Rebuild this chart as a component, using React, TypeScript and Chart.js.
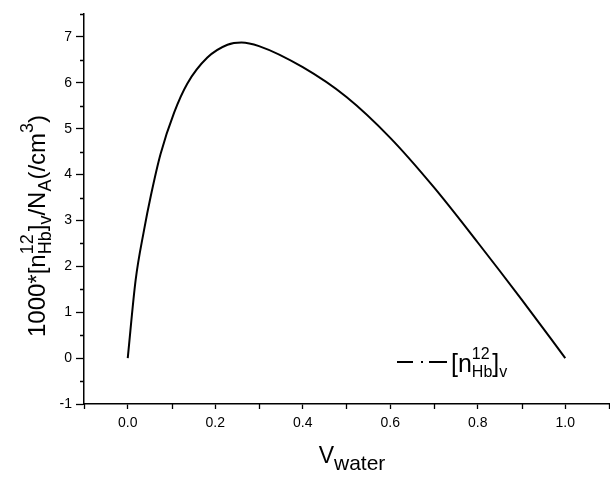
import React, { useEffect, useRef } from 'react';
import { Chart, registerables } from 'chart.js';

Chart.register(...registerables);

// Curve: V_water vs 1000*[n12_Hb]_v/N_A (/cm^3)
const vWater = [0, 0.018, 0.037, 0.053, 0.075, 0.106, 0.136, 0.182, 0.228, 0.26, 0.3, 0.4, 0.5, 0.6, 0.7, 0.8, 0.9, 1.0];
const nHb = [0, 1.70, 2.78, 3.55, 4.45, 5.35, 5.98, 6.55, 6.83, 6.88, 6.80, 6.34, 5.69, 4.80, 3.72, 2.52, 1.28, 0];

const xMajorTicks = [0, 0.2, 0.4, 0.6, 0.8, 1.0];
const xMinorTicks = [-0.1, 0.1, 0.3, 0.5, 0.7, 0.9, 1.1];
const yMajorTicks = [-1, 0, 1, 2, 3, 4, 5, 6, 7];
const yMinorTicks = [-0.5, 0.5, 1.5, 2.5, 3.5, 4.5, 5.5, 6.5, 7.5];
const xRange = [-0.1, 1.1];
const yRange = [-1, 7.5];

const FONT = "'Liberation Sans', Arial, Helvetica, sans-serif";

type Seg = { t: string; size: number; dy: number; group?: number };

function measureRich(ctx: CanvasRenderingContext2D, segs: Seg[]) {
  let w = 0;
  let i = 0;
  while (i < segs.length) {
    const g = segs[i].group;
    let maxW = 0;
    let j = i;
    do {
      ctx.font = `${segs[j].size}px ${FONT}`;
      maxW = Math.max(maxW, ctx.measureText(segs[j].t).width);
      j++;
    } while (g !== undefined && j < segs.length && segs[j].group === g);
    w += maxW;
    i = j;
  }
  return w;
}

function drawRich(ctx: CanvasRenderingContext2D, segs: Seg[], x: number, y: number) {
  let cx = x;
  let i = 0;
  ctx.textBaseline = 'alphabetic';
  ctx.textAlign = 'left';
  while (i < segs.length) {
    const g = segs[i].group;
    let maxW = 0;
    let j = i;
    do {
      ctx.font = `${segs[j].size}px ${FONT}`;
      ctx.fillText(segs[j].t, cx, y + segs[j].dy);
      maxW = Math.max(maxW, ctx.measureText(segs[j].t).width);
      j++;
    } while (g !== undefined && j < segs.length && segs[j].group === g);
    cx += maxW;
    i = j;
  }
}

const yTitleSegs: Seg[] = [
  { t: '1000*[n', size: 24, dy: 0 },
  { t: '12', size: 18, dy: -12, group: 1 },
  { t: 'Hb', size: 18, dy: 6, group: 1 },
  { t: ']', size: 24, dy: 0 },
  { t: 'v', size: 18, dy: 6 },
  { t: '/N', size: 24, dy: 0 },
  { t: 'A', size: 18, dy: 6 },
  { t: '(/cm', size: 24, dy: 0 },
  { t: '3', size: 18, dy: -12 },
  { t: ')', size: 24, dy: 0 },
];

const xTitleSegs: Seg[] = [
  { t: 'V', size: 23, dy: 0 },
  { t: 'water', size: 21, dy: 7 },
];

const legendSegs: Seg[] = [
  { t: '[n', size: 25, dy: 0 },
  { t: '12', size: 16, dy: -13, group: 2 },
  { t: 'Hb', size: 16, dy: 5, group: 2 },
  { t: ']', size: 25, dy: 0 },
  { t: 'v', size: 16, dy: 5 },
];

const decorPlugin = {
  id: 'decor',
  afterDraw(chart: any) {
    const ctx = chart.ctx as CanvasRenderingContext2D;
    const xs = chart.scales.x;
    const ys = chart.scales.y;
    const area = chart.chartArea;
    ctx.save();
    ctx.strokeStyle = '#000';
    ctx.fillStyle = '#000';
    ctx.lineWidth = 1.3;
    // minor ticks
    ctx.beginPath();
    for (const v of yMinorTicks) {
      const p = Math.round(ys.getPixelForValue(v)) + 0.5;
      ctx.moveTo(area.left, p);
      ctx.lineTo(area.left - 4, p);
    }
    for (const v of xMinorTicks) {
      const p = Math.round(xs.getPixelForValue(v)) + 0.5;
      ctx.moveTo(p, area.bottom);
      ctx.lineTo(p, area.bottom + 5);
    }
    ctx.stroke();

    // y title
    ctx.save();
    const yw = measureRich(ctx, yTitleSegs);
    ctx.translate(45, 226);
    ctx.rotate(-Math.PI / 2);
    drawRich(ctx, yTitleSegs, -yw / 2, 0);
    ctx.restore();

    // x title
    const xw = measureRich(ctx, xTitleSegs);
    drawRich(ctx, xTitleSegs, 352 - xw / 2, 463);

    // legend
    const ly = 362;
    ctx.lineWidth = 2;
    ctx.beginPath();
    ctx.moveTo(397, ly);
    ctx.lineTo(413, ly);
    ctx.moveTo(421, ly);
    ctx.lineTo(423, ly);
    ctx.moveTo(429, ly);
    ctx.lineTo(447, ly);
    ctx.stroke();
    drawRich(ctx, legendSegs, 451, 372);
    ctx.restore();
  },
};

export default function App() {
  const ref = useRef<HTMLCanvasElement>(null);
  useEffect(() => {
    if (!ref.current) return;
    const points = vWater.map((v, i) => ({ x: v, y: nHb[i] }));
    const chart = new Chart(ref.current, {
      type: 'line',
      data: {
        datasets: [
          {
            label: '[n12Hb]v',
            data: points,
            borderColor: '#000',
            borderWidth: 2,
            pointRadius: 0,
            fill: false,
            cubicInterpolationMode: 'monotone',
          },
        ],
      },
      plugins: [decorPlugin],
      options: {
        responsive: false,
        animation: false,
        events: [],
        layout: { padding: { top: 14, right: 1, left: 0, bottom: 0 } },
        plugins: { legend: { display: false }, tooltip: { enabled: false } },
        scales: {
          x: {
            type: 'linear',
            min: xRange[0],
            max: xRange[1],
            afterBuildTicks: (s: any) => {
              s.ticks = xMajorTicks.map((v) => ({ value: v }));
            },
            afterFit: (s: any) => {
              s.height = 75;
            },
            ticks: {
              color: '#000',
              font: { family: FONT, size: 14 },
              padding: 6,
              maxRotation: 0,
              autoSkip: false,
              callback: (v: any) => Number(v).toFixed(1),
            },
            grid: { drawOnChartArea: false, drawTicks: true, tickLength: 5, tickColor: '#000', tickWidth: 1.3 },
            border: { display: true, color: '#000', width: 1.5 },
          },
          y: {
            type: 'linear',
            min: yRange[0],
            max: yRange[1],
            afterBuildTicks: (s: any) => {
              s.ticks = yMajorTicks.map((v) => ({ value: v }));
            },
            afterFit: (s: any) => {
              s.width = 84;
            },
            ticks: {
              color: '#000',
              font: { family: FONT, size: 14 },
              padding: 4,
              autoSkip: false,
              callback: (v: any) => String(v),
            },
            grid: { drawOnChartArea: false, drawTicks: true, tickLength: 8, tickColor: '#000', tickWidth: 1.3 },
            border: { display: true, color: '#000', width: 1.5 },
          },
        },
      } as any,
    });
    return () => chart.destroy();
  }, []);
  return (
    <div style={{ position: 'fixed', left: 0, top: 0, width: 610, height: 479, background: '#fff' }}>
      <canvas ref={ref} width={610} height={479} style={{ display: 'block' }} />
    </div>
  );
}
